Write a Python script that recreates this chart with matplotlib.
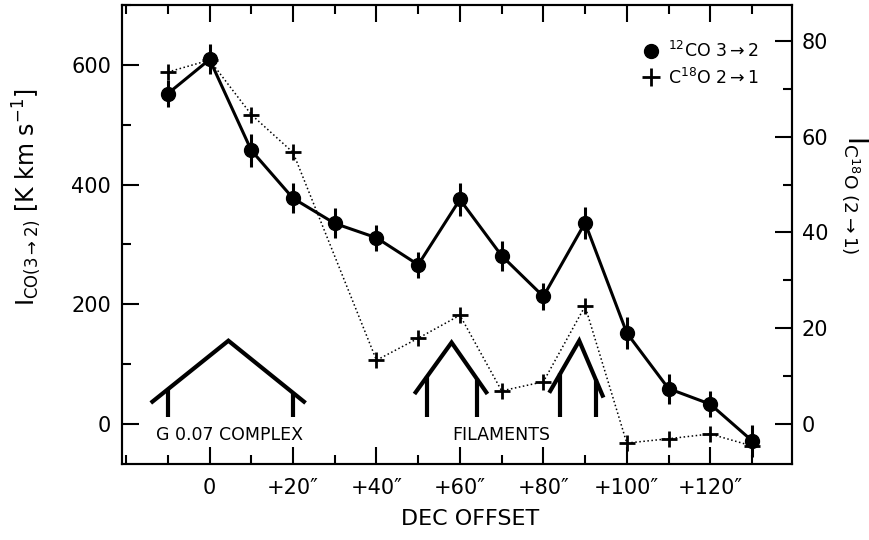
import matplotlib
matplotlib.use("Agg")
import matplotlib.pyplot as plt
from matplotlib.lines import Line2D
from matplotlib.ticker import MultipleLocator, FixedLocator

plt.rcParams['font.family'] = ['DejaVu Sans']
plt.rcParams['mathtext.fontset'] = 'dejavusans'

# 12CO 3-2 integrated intensity along the declination cut
dec_co = [-10, 0, 10, 20, 30, 40, 50, 60, 70, 80, 90, 100, 110, 120, 130]
i_co = [552, 609, 457, 377, 335, 311, 266, 375, 281, 213, 336, 152, 59, 33, -28]
err_co = [22, 25, 27, 25, 25, 22, 22, 27, 25, 22, 27, 27, 25, 22, 27]

# C18O 2-1 integrated intensity (right-hand scale)
dec_c18o = [-10, 0, 10, 20, 40, 50, 60, 70, 80, 90, 100, 110, 120, 130]
i_c18o = [73.5, 76, 64.6, 56.7, 13.3, 17.9, 22.7, 6.9, 8.8, 24.6, -4.0, -3.1, -2.1, -4.6]

xtick_pos = [0, 20, 40, 60, 80, 100, 120]
xtick_labels = ['0', '+20\u2033', '+40\u2033', '+60\u2033', '+80\u2033', '+100\u2033', '+120\u2033']

# roof-shaped markers for the complex and the two filaments (left-axis units)
roofs = [
    {'x': [-14.1, 4.5, 23.0], 'y': [35, 139, 35], 'legs': [-10, 20]},
    {'x': [49.1, 58.0, 66.6], 'y': [50, 136, 50], 'legs': [52.2, 64.0]},
    {'x': [81.4, 88.6, 94.4], 'y': [52, 139, 44], 'legs': [84.1, 92.5]},
]
leg_bottom = 12

fig = plt.figure(figsize=(8.69, 5.4), dpi=100)
ax = fig.add_axes([122 / 869, 76 / 540, 670 / 869, 459 / 540])
ax2 = ax.twinx()

ax.set_xlim(-21, 139.6)
ax.set_ylim(-67, 700)
ax2.set_ylim(-67 / 8, 700 / 8)

ax.errorbar(dec_co, i_co, yerr=err_co, fmt='-o', color='black', lw=2.2,
            ms=10, elinewidth=2.2, capsize=0, zorder=4)
ax2.plot(dec_c18o, i_c18o, ls=':', lw=1.1, color='black', marker='+',
         ms=11, mew=2, zorder=3)

for r in roofs:
    ax.plot(r['x'], r['y'], color='black', lw=3, solid_capstyle='butt',
            solid_joinstyle='miter')
    for xl in r['legs']:
        # vertical leg from the roof line down
        if xl <= r['x'][1]:
            ytop = r['y'][0] + (r['y'][1] - r['y'][0]) * (xl - r['x'][0]) / (r['x'][1] - r['x'][0])
        else:
            ytop = r['y'][1] + (r['y'][2] - r['y'][1]) * (xl - r['x'][1]) / (r['x'][2] - r['x'][1])
        ax.plot([xl, xl], [leg_bottom, ytop], color='black', lw=3,
                solid_capstyle='butt')

ax.text(-12.8, -18, 'G 0.07 COMPLEX', fontsize=12.5, va='center', ha='left')
ax.text(70, -18, 'FILAMENTS', fontsize=12.5, va='center', ha='center')

# axes and ticks
ax.xaxis.set_major_locator(FixedLocator(xtick_pos))
ax.set_xticklabels(xtick_labels)
ax.xaxis.set_minor_locator(MultipleLocator(10))
ax.yaxis.set_major_locator(MultipleLocator(200))
ax.yaxis.set_minor_locator(MultipleLocator(100))
ax2.yaxis.set_major_locator(MultipleLocator(20))
ax2.yaxis.set_minor_locator(MultipleLocator(10))

ax.tick_params(axis='x', which='both', direction='in', top=True, labelsize=15, pad=10)
ax.tick_params(axis='y', which='both', direction='in', right=False, labelsize=15, pad=8)
ax2.tick_params(axis='y', which='both', direction='in', labelsize=15, pad=7)
for a in (ax, ax2):
    a.tick_params(which='major', length=12, width=1.5)
    a.tick_params(which='minor', length=6.5, width=1.5)
    for s in a.spines.values():
        s.set_linewidth(1.5)

ax.set_xlabel('DEC OFFSET', fontsize=16)
ax.xaxis.set_label_coords(0.52, -0.098)
ax.set_ylabel(r'I$_{\mathrm{CO(3\rightarrow2)}}$ [K km s$^{-1}$]', fontsize=17)
ax.yaxis.set_label_coords(-0.118, 0.58)
ax2.set_ylabel(r'I$_{\mathrm{C^{18}O\ (2\rightarrow1)}}$', fontsize=19,
               rotation=270, va='center')
ax2.yaxis.set_label_coords(1.094, 0.586)

handles = [
    Line2D([], [], ls='none', marker='o', ms=10, color='black'),
    Line2D([], [], ls='none', marker='+', ms=13, mew=2, color='black'),
]
labels = [r'$^{12}$CO 3$\rightarrow$2', r'C$^{18}$O 2$\rightarrow$1']
ax.legend(handles, labels, loc='upper right', frameon=False, fontsize=12.5,
          handlelength=0.8, handletextpad=0.6, labelspacing=0.35,
          bbox_to_anchor=(0.975, 0.955))

fig.savefig('out.png', dpi=100)
